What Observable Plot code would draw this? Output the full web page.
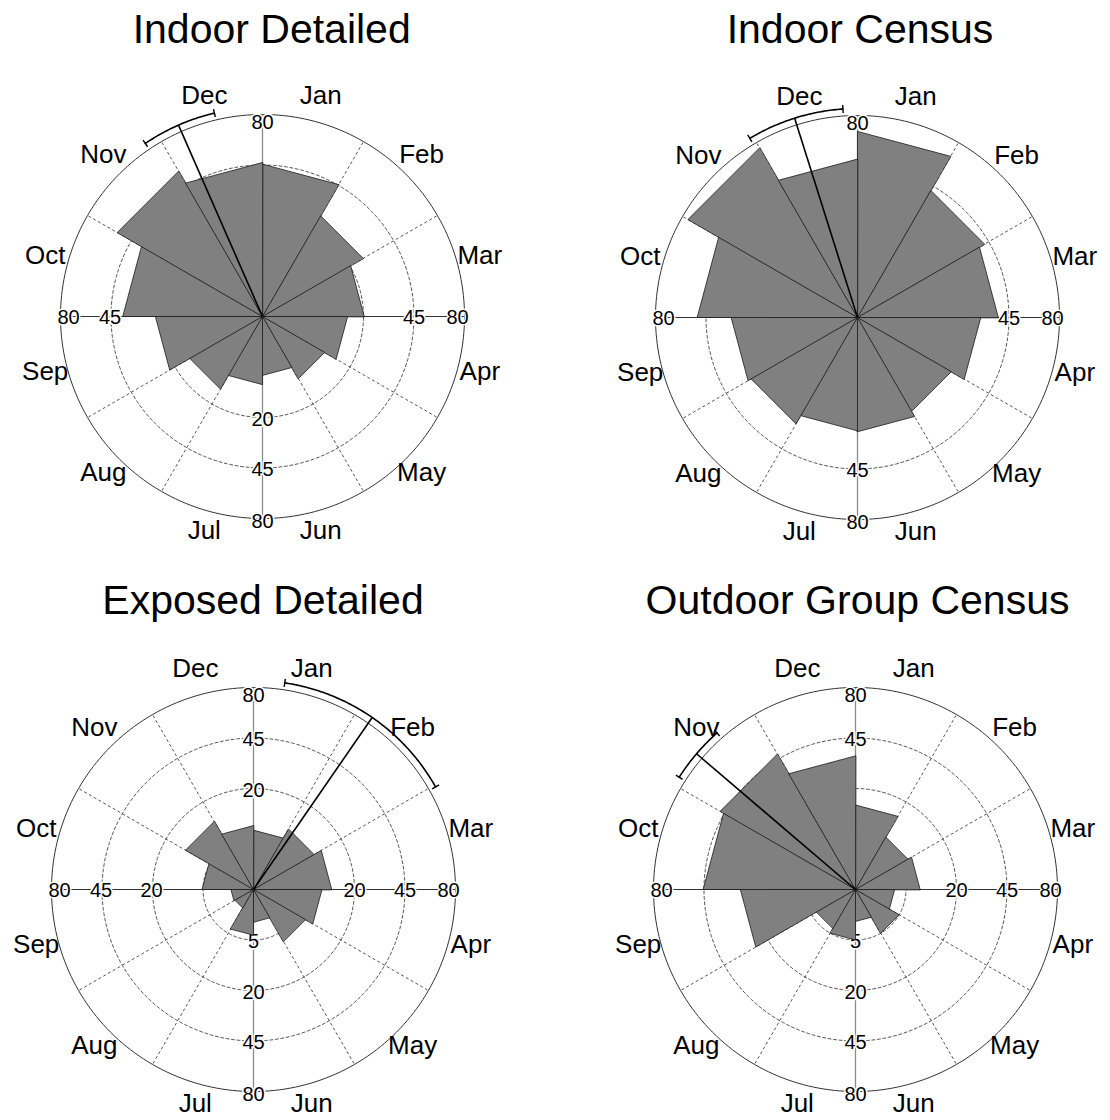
<!DOCTYPE html>
<html>
<head>
<meta charset="utf-8">
<script src="https://cdn.jsdelivr.net/npm/d3@7"></script>
<script src="https://cdn.jsdelivr.net/npm/@observablehq/plot@0.6"></script>
<style>
html, body { margin: 0; padding: 0; background: #fff; overflow: hidden; }
#wrap { position: relative; width: 1110px; height: 1120px; font-family: "Liberation Sans", Arial, sans-serif; }
.panel { position: absolute; }
.title { position: absolute; width: 600px; text-align: center; font-size: 41px; line-height: 41px; color: #000; white-space: nowrap; }
</style>
</head>
<body>
<div id="wrap"></div>
<script>
// ---------- data ----------
const months = ["Jan", "Feb", "Mar", "Apr", "May", "Jun", "Jul", "Aug", "Sep", "Oct", "Nov", "Dec"];
const indoorDetailed     = [45.5, 26.5, 20.3, 14.2, 10.1, 6.8, 9.1, 13.8, 22.5, 38.3, 55.2, 46.5];
const indoorCensus       = [67.9, 42.2, 38.9, 29.8, 23.0, 25.6, 25.2, 29.6, 31.3, 50.4, 75.2, 49.2];
const exposedDetailed    = [6.9, 9.6, 12.0, 9.2, 7.1, 2.1, 4.1, 0.9, 1.0, 5.2, 12.1, 8.0];
const outdoorGroupCensus = [14.0, 7.2, 8.2, 3.0, 5.0, 2.0, 5.0, 4.0, 26.0, 45.5, 47.9, 35.0];
const titles = ["Indoor Detailed", "Indoor Census", "Exposed Detailed", "Outdoor Group Census"];
const meanDirection = [336.3, 342.5, 34.6, 310.5];   // degrees clockwise from Jan 1 (north)
const ciHalfWidth   = [10.4, 13.5, 26.0, 8.0];        // degrees
const ringTicks = [5, 20, 45, 80];

// ---------- layout (style) ----------
const layout = [
  {cx: 261.7, cy: 315.5, tx: 271.7, ty: 8.6},
  {cx: 856.7, cy: 317.3, tx: 860.0, ty: 8.6},
  {cx: 253.3, cy: 889.3, tx: 263.0, ty: 580.3},
  {cx: 855.0, cy: 889.3, tx: 857.5, ty: 580.3}
];
const SIZE = 500;
const RPX = 202;                       // px radius of the outer ring
const sMax = Math.sqrt(d3.max(ringTicks));
const unit = RPX / sMax;               // px per sqrt-unit
const half = SIZE / 2 / unit;
const DEG = Math.PI / 180;
const P = (r, deg) => [r * Math.sin(deg * DEG), r * Math.cos(deg * DEG)];
const FONT = "'Liberation Sans', Arial, sans-serif";

function rose(values, mean, ci) {
  // wedges (triangles with straight outer edge, radius = sqrt(count))
  const wedges = [];
  values.forEach((v, i) => {
    const r = Math.sqrt(v);
    [[0, 0], P(r, i * 30), P(r, (i + 1) * 30)].forEach(([x, y]) => wedges.push({m: months[i], x, y}));
  });
  // rings
  const rings = [];
  ringTicks.forEach(t => {
    for (let a = 0; a <= 360; a += 1.5) { const [x, y] = P(Math.sqrt(t), a); rings.push({t, x, y}); }
  });
  const dashedRings = rings.filter(d => d.t !== 80);
  const outerRing = rings.filter(d => d.t === 80);
  // spokes
  const spokes = d3.range(0, 360, 30).map(a => { const [x, y] = P(sMax, a); return {a, x, y}; });
  const dashedSpokes = spokes.filter(d => d.a % 90 !== 0);
  const vAxis = spokes.filter(d => d.a === 0 || d.a === 180);
  const hAxis = spokes.filter(d => d.a === 90 || d.a === 270);
  // tick labels: drawn only where the ring clears the adjacent wedges
  const tickLabels = [];
  [0, 90, 180, 270].forEach(dir => {
    const i = dir / 30, j = (i + 11) % 12;
    ringTicks.forEach(t => {
      if (t === 80 || t >= Math.max(values[i], values[j])) {
        const [x, y] = P(Math.sqrt(t), dir);
        tickLabels.push({dir, t, x, y, outer: t === 80});
      }
    });
  });
  const offs = {
    0:   {outer: [0, 8],  inner: [0, 2]},
    90:  {outer: [-7, 1], inner: [0, 1]},
    180: {outer: [0, 3],  inner: [0, 2]},
    270: {outer: [8, 1],  inner: [-1, 1]}
  };
  const tickMarks = [];
  for (const dir of [0, 90, 180, 270]) {
    for (const kind of ["outer", "inner"]) {
      const data = tickLabels.filter(d => d.dir === dir && (kind === "outer") === d.outer);
      tickMarks.push(Plot.text(data, {
        x: "x", y: "y", text: d => String(d.t),
        dx: offs[dir][kind][0], dy: offs[dir][kind][1],
        fontSize: 20, fill: "#000", stroke: "#fff", strokeWidth: 3, paintOrder: "stroke",
        fontFamily: FONT
      }));
    }
  }
  // month labels
  const monthLabels = months.map((m, i) => { const [x, y] = P(sMax * 225 / RPX, i * 30 + 15); return {m, x, y}; });
  // mean direction and confidence arc
  const sArc = sMax * 209 / RPX;
  const [mx, my] = P(sArc, mean);
  const arc = d3.range(mean - ci, mean + ci + 0.001, 0.5).map(a => { const [x, y] = P(sArc, a); return {x, y}; });
  const ends = [mean - ci, mean + ci].map(a => {
    const [x1, y1] = P(sMax * 205 / RPX, a), [x2, y2] = P(sMax * 213 / RPX, a);
    return {x1, y1, x2, y2};
  });

  return Plot.plot({
    width: SIZE, height: SIZE,
    marginTop: 0, marginRight: 0, marginBottom: 0, marginLeft: 0,
    x: {domain: [-half, half], axis: null},
    y: {domain: [-half, half], axis: null},
    style: {background: "none", overflow: "visible", fontFamily: FONT},
    marks: [
      Plot.line(dashedRings, {x: "x", y: "y", z: "t", stroke: "#444", strokeWidth: 0.9, strokeDasharray: "3,2.5"}),
      Plot.link(dashedSpokes, {x1: 0, y1: 0, x2: "x", y2: "y", stroke: "#444", strokeWidth: 0.9, strokeDasharray: "3,2.5"}),
      Plot.line(outerRing, {x: "x", y: "y", stroke: "#333", strokeWidth: 1}),
      Plot.link(vAxis, {x1: 0, y1: 0, x2: "x", y2: "y", stroke: "#8a8a8a", strokeWidth: 1.3}),
      Plot.link(hAxis, {x1: 0, y1: 0, x2: "x", y2: "y", stroke: "#333", strokeWidth: 1.1}),
      ...tickMarks,
      Plot.line(wedges, {x: "x", y: "y", z: "m", curve: "linear-closed", fill: "#808080", stroke: "#1a1a1a", strokeWidth: 0.8, strokeLinejoin: "miter", strokeMiterlimit: 10}),
      Plot.link([{x2: mx, y2: my}], {x1: 0, y1: 0, x2: "x2", y2: "y2", stroke: "#000", strokeWidth: 1.6}),
      Plot.line(arc, {x: "x", y: "y", stroke: "#000", strokeWidth: 1.6}),
      Plot.link(ends, {x1: "x1", y1: "y1", x2: "x2", y2: "y2", stroke: "#000", strokeWidth: 1.4}),
      Plot.text(monthLabels, {x: "x", y: "y", text: "m", fontSize: 26, dy: -3, fill: "#000", fontFamily: FONT})
    ]
  });
}

const series = [indoorDetailed, indoorCensus, exposedDetailed, outdoorGroupCensus];
const wrap = document.getElementById("wrap");
series.forEach((vals, k) => {
  const L = layout[k];
  const holder = document.createElement("div");
  holder.className = "panel";
  holder.style.left = (L.cx - SIZE / 2) + "px";
  holder.style.top = (L.cy - SIZE / 2) + "px";
  holder.appendChild(rose(vals, meanDirection[k], ciHalfWidth[k]));
  wrap.appendChild(holder);
  const t = document.createElement("div");
  t.className = "title";
  t.textContent = titles[k];
  t.style.left = (L.tx - 300) + "px";
  t.style.top = L.ty + "px";
  wrap.appendChild(t);
});
</script>
</body>
</html>
